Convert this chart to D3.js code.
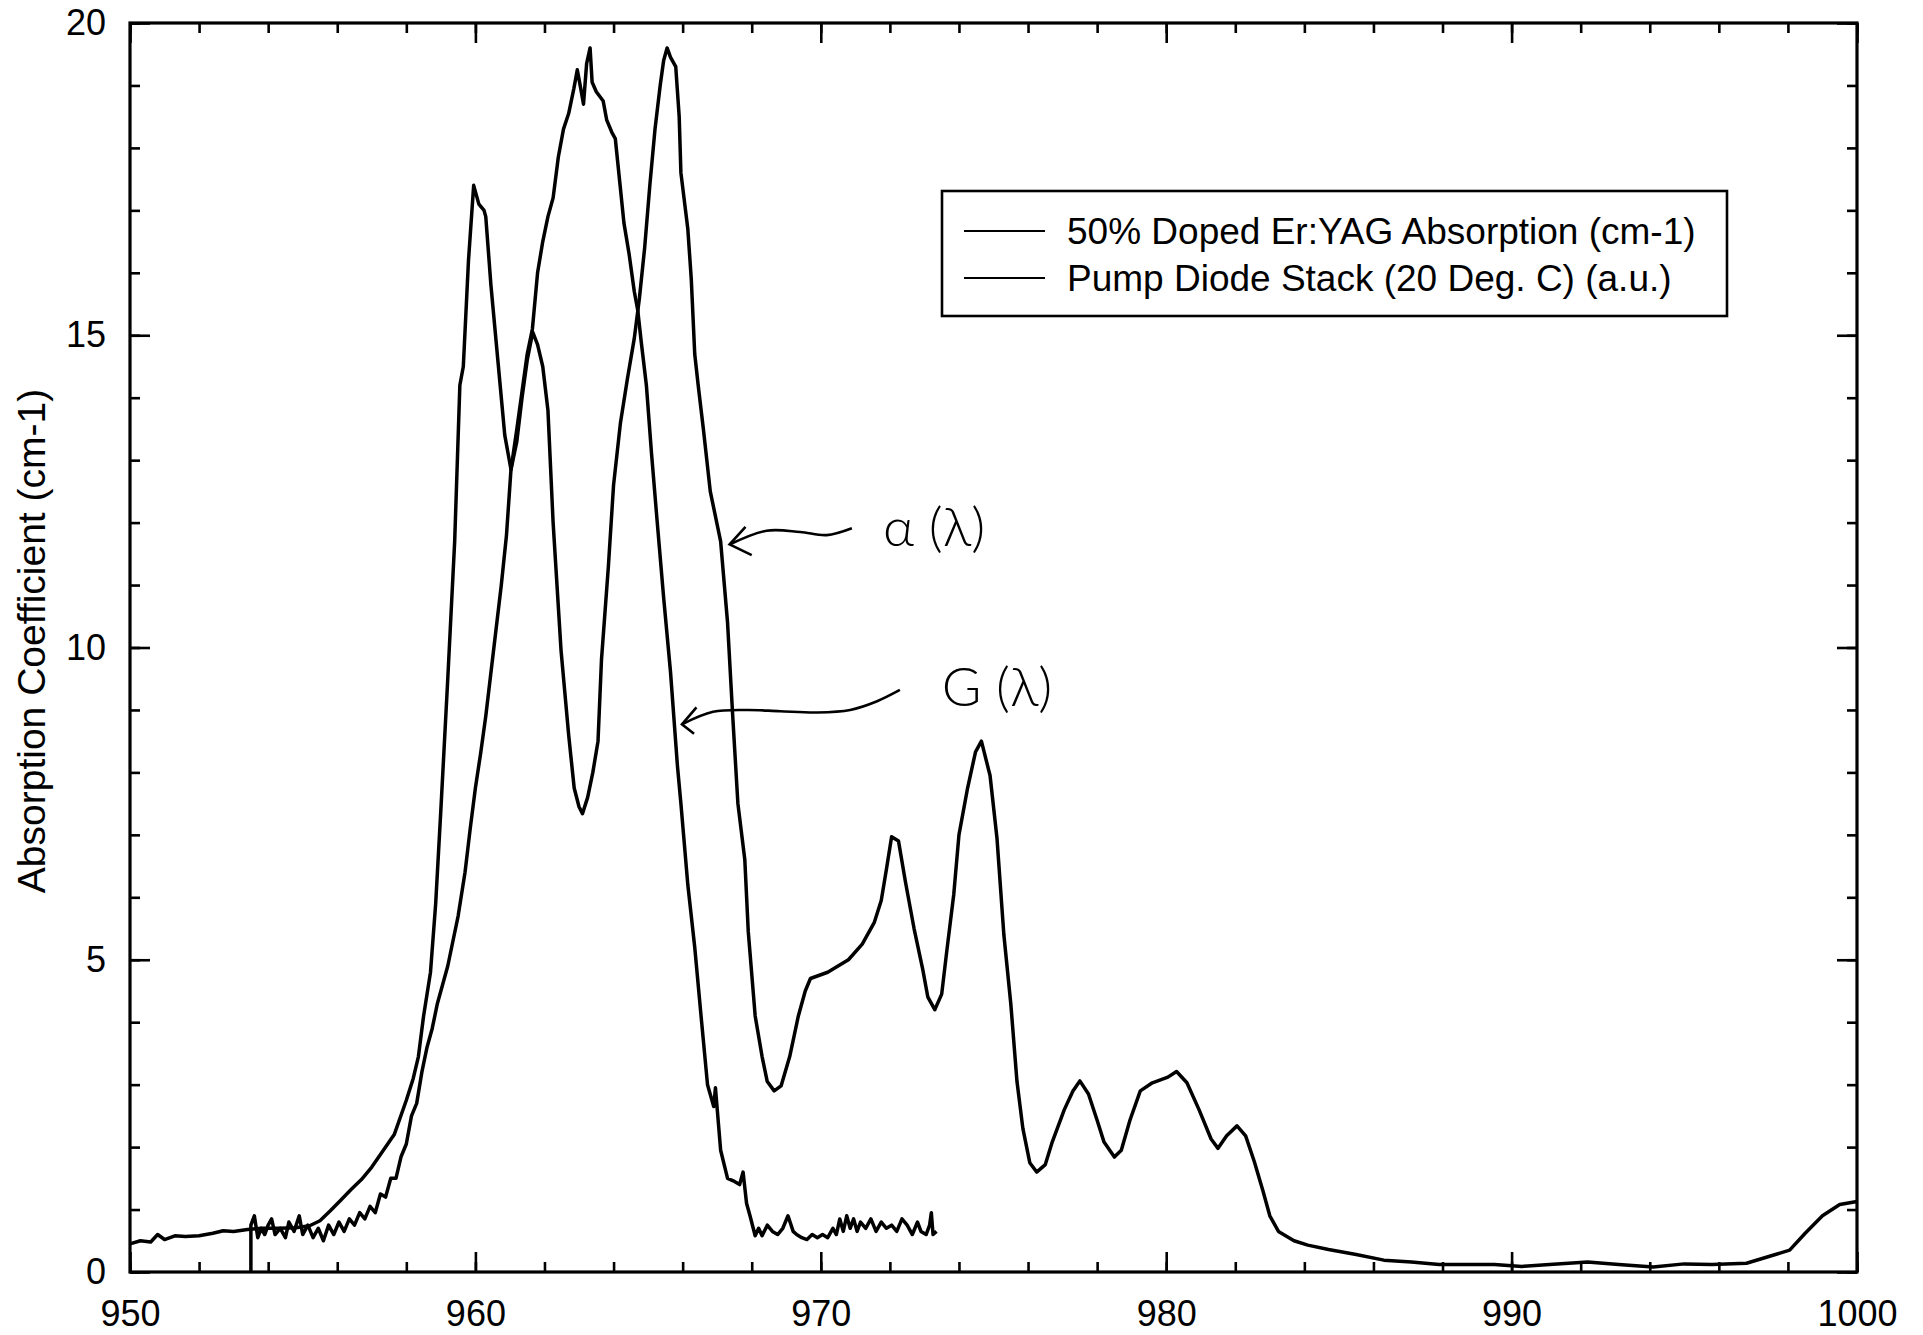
<!DOCTYPE html>
<html>
<head>
<meta charset="utf-8">
<script src="https://cdnjs.cloudflare.com/ajax/libs/d3/7.8.5/d3.min.js"></script>
<style>
body { margin: 0; background: #fff; }
svg { display: block; font-family: "Liberation Sans", Arial, sans-serif; }
</style>
</head>
<body>
<svg></svg>
<script>
// tick values
const xTicks = [950, 960, 970, 980, 990, 1000];
const yTicks = [0, 5, 10, 15, 20];
const xMinor = d3.range(950, 1001, 2);
const yMinor = d3.range(0, 21, 1);

const seriesNames = ['50% Doped Er:YAG Absorption (cm-1)', 'Pump Diode Stack (20 Deg. C) (a.u.)'];
const yTitle = 'Absorption Coefficient (cm-1)';

// [wavelength nm, value]
const absorption = [
  [950.0, 0.45], [950.3, 0.50], [950.6, 0.48], [950.8, 0.60], [951.0, 0.52], [951.3, 0.58],
  [951.6, 0.57], [952.0, 0.58], [952.4, 0.62], [952.7, 0.66], [953.0, 0.65], [953.4, 0.68],
  [953.8, 0.70], [954.3, 0.70], [954.8, 0.71], [955.2, 0.74], [955.5, 0.82], [955.8, 0.98],
  [956.1, 1.15], [956.4, 1.32], [956.7, 1.48], [957.0, 1.68], [957.3, 1.92], [957.65, 2.2],
  [958.0, 2.75], [958.2, 3.1], [958.35, 3.45], [958.5, 4.1], [958.7, 4.8], [958.85, 5.9],
  [959.0, 7.4], [959.2, 9.5], [959.4, 11.7], [959.55, 14.2], [959.65, 14.5], [959.8, 16.2],
  [959.95, 17.4], [960.1, 17.1], [960.25, 17.0], [960.3, 16.9], [960.45, 15.8], [960.65, 14.6],
  [960.85, 13.4], [961.03, 12.85], [961.2, 13.3], [961.35, 14.0], [961.5, 14.6], [961.66, 15.05],
  [961.8, 14.85], [961.95, 14.5], [962.1, 13.8], [962.25, 12.0], [962.48, 9.95], [962.7, 8.6],
  [962.86, 7.75], [963.0, 7.45], [963.1, 7.34], [963.25, 7.6], [963.4, 8.0], [963.55, 8.5],
  [963.65, 9.8], [963.85, 11.3], [964.0, 12.6], [964.2, 13.6], [964.4, 14.3], [964.6, 14.95],
  [964.75, 15.6], [964.9, 16.4], [965.05, 17.4], [965.2, 18.3], [965.35, 19.0], [965.45, 19.4],
  [965.55, 19.6], [965.65, 19.45], [965.8, 19.3], [965.9, 18.5], [965.95, 17.6], [966.15, 16.7],
  [966.25, 15.9], [966.35, 14.7], [966.45, 14.2], [966.6, 13.5], [966.8, 12.5], [967.1, 11.7],
  [967.3, 10.4], [967.45, 8.9], [967.6, 7.5], [967.8, 6.6], [967.9, 5.45], [968.1, 4.1],
  [968.3, 3.45], [968.45, 3.05], [968.65, 2.9], [968.85, 2.98], [969.1, 3.45], [969.35, 4.1],
  [969.55, 4.5], [969.7, 4.7], [970.2, 4.8], [970.5, 4.9], [970.8, 5.0], [971.2, 5.25],
  [971.55, 5.6], [971.75, 5.95], [971.9, 6.45], [972.05, 6.97], [972.25, 6.9], [972.45, 6.25],
  [972.7, 5.5], [972.95, 4.85], [973.1, 4.4], [973.3, 4.2], [973.5, 4.45], [973.65, 5.15],
  [973.85, 6.05], [974.0, 7.0], [974.25, 7.75], [974.48, 8.33], [974.65, 8.5], [974.9, 7.95],
  [975.1, 6.95], [975.3, 5.4], [975.5, 4.3], [975.68, 3.05], [975.85, 2.3], [976.05, 1.75],
  [976.25, 1.6], [976.5, 1.72], [976.7, 2.08], [977.05, 2.6], [977.3, 2.9], [977.5, 3.06],
  [977.75, 2.85], [978.0, 2.43], [978.2, 2.08], [978.5, 1.84], [978.7, 1.95], [978.95, 2.43],
  [979.25, 2.9], [979.6, 3.03], [980.05, 3.12], [980.3, 3.21], [980.6, 3.03], [980.95, 2.6],
  [981.3, 2.13], [981.5, 1.98], [981.75, 2.18], [982.05, 2.34], [982.3, 2.18], [982.55, 1.77],
  [982.8, 1.3], [983.0, 0.9], [983.25, 0.65], [983.7, 0.5], [984.1, 0.43], [984.7, 0.36],
  [985.5, 0.28], [986.3, 0.19], [987.1, 0.16], [987.9, 0.12], [988.7, 0.12], [989.5, 0.12],
  [990.3, 0.09], [991.1, 0.12], [992.2, 0.16], [993.1, 0.12], [994.1, 0.08], [995.0, 0.13],
  [995.8, 0.12], [996.8, 0.14], [997.4, 0.24], [998.05, 0.35], [998.5, 0.62], [999.0, 0.9],
  [999.5, 1.08], [1000.0, 1.13]
];

const pumpDiode = [
  [953.5, 0.0], [953.5, 0.75], [953.6, 0.9], [953.7, 0.55], [953.8, 0.7], [953.9, 0.6],
  [954.0, 0.75], [954.1, 0.85], [954.2, 0.6], [954.35, 0.7], [954.5, 0.55], [954.6, 0.8],
  [954.75, 0.65], [954.9, 0.9], [955.0, 0.6], [955.15, 0.75], [955.3, 0.55], [955.45, 0.7],
  [955.6, 0.5], [955.75, 0.75], [955.9, 0.6], [956.05, 0.8], [956.2, 0.65], [956.35, 0.85],
  [956.5, 0.75], [956.65, 0.95], [956.8, 0.85], [956.95, 1.05], [957.1, 0.95], [957.25, 1.25],
  [957.4, 1.2], [957.55, 1.5], [957.7, 1.5], [957.85, 1.85], [958.0, 2.05], [958.15, 2.5],
  [958.3, 2.7], [958.45, 3.2], [958.6, 3.6], [958.75, 3.9], [958.9, 4.3], [959.05, 4.6],
  [959.2, 4.9], [959.35, 5.3], [959.5, 5.7], [959.7, 6.4], [959.85, 7.1], [960.0, 7.75],
  [960.15, 8.3], [960.3, 8.9], [960.45, 9.6], [960.6, 10.3], [960.75, 11.0], [960.9, 11.8],
  [961.03, 12.85], [961.2, 13.5], [961.35, 14.1], [961.5, 14.7], [961.65, 15.1], [961.8, 16.0],
  [961.95, 16.5], [962.1, 16.9], [962.25, 17.2], [962.4, 17.85], [962.55, 18.3], [962.7, 18.55],
  [962.85, 18.95], [962.95, 19.25], [963.05, 18.95], [963.13, 18.7], [963.22, 19.35], [963.32, 19.6],
  [963.38, 19.05], [963.5, 18.9], [963.7, 18.75], [963.8, 18.45], [963.95, 18.25], [964.05, 18.15],
  [964.18, 17.45], [964.3, 16.8], [964.45, 16.3], [964.6, 15.7], [964.7, 15.4], [964.8, 14.9],
  [964.95, 14.2], [965.1, 13.1], [965.25, 12.1], [965.45, 10.8], [965.65, 9.6], [965.85, 8.1],
  [965.95, 7.5], [966.15, 6.2], [966.35, 5.2], [966.55, 4.0], [966.72, 3.0], [966.9, 2.65],
  [966.95, 2.95], [967.1, 1.95], [967.3, 1.5], [967.5, 1.45], [967.65, 1.4], [967.75, 1.6],
  [967.85, 1.1], [967.95, 0.9], [968.1, 0.58], [968.2, 0.7], [968.3, 0.58], [968.45, 0.75],
  [968.6, 0.65], [968.75, 0.6], [968.9, 0.7], [969.05, 0.9], [969.2, 0.65], [969.3, 0.6],
  [969.45, 0.55], [969.6, 0.52], [969.75, 0.6], [969.9, 0.55], [970.05, 0.6], [970.2, 0.55],
  [970.35, 0.7], [970.45, 0.6], [970.55, 0.85], [970.65, 0.65], [970.75, 0.9], [970.85, 0.7],
  [970.95, 0.85], [971.05, 0.65], [971.15, 0.8], [971.3, 0.7], [971.45, 0.85], [971.6, 0.65],
  [971.75, 0.8], [971.9, 0.7], [972.05, 0.75], [972.2, 0.65], [972.35, 0.85], [972.5, 0.75],
  [972.65, 0.6], [972.8, 0.8], [972.9, 0.65], [973.05, 0.6], [973.15, 0.75], [973.2, 0.95],
  [973.25, 0.6], [973.35, 0.65]
];

// hand written notes on the scan, in data units
const alphaArrow = [[970.9, 11.91], [970.17, 11.8], [969.4, 11.85], [968.43, 11.87], [967.36, 11.65]];
const alphaHead = [[967.82, 11.93], [967.36, 11.65], [968.0, 11.48]];
const gArrow = [[972.29, 9.32], [971.63, 9.14], [970.85, 9.0], [969.89, 8.96], [968.82, 8.98], [967.86, 9.0], [966.88, 8.97], [965.98, 8.77]];
const gHead = [[966.4, 9.04], [965.98, 8.77], [966.33, 8.62]];
const notes = [
  { text: 'α (λ)', x: 971.8, y: 11.62 },
  { text: 'G (λ)', x: 973.5, y: 9.06 }
];

let width = 1923;
let height = 1335;
let margin = { left: 130, right: 1857, top: 23, bottom: 1272 };

let svg = d3.select('svg')
  .attr('width', width)
  .attr('height', height);

let xScale = d3.scaleLinear().domain([950, 1000]).range([margin.left, margin.right]);
let yScale = d3.scaleLinear().domain([0, 20]).range([margin.bottom, margin.top]);

let drawAxes = () => {
  let addAxis = (axis, tx, ty) => {
    let g = svg.append('g')
      .attr('transform', `translate(${tx}, ${ty})`)
      .call(axis);
    g.select('.domain').remove();
    g.selectAll('line').attr('stroke', '#000').attr('stroke-width', 2.6);
    g.selectAll('text').attr('fill', '#000').style('font-size', '36px');
    return g;
  };

  // minor ticks on all sides
  addAxis(d3.axisBottom(xScale).tickValues(xMinor).tickSize(-10).tickFormat(''), 0, margin.bottom);
  addAxis(d3.axisTop(xScale).tickValues(xMinor).tickSize(-10).tickFormat(''), 0, margin.top);
  addAxis(d3.axisLeft(yScale).tickValues(yMinor).tickSize(-10).tickFormat(''), margin.left, 0);
  addAxis(d3.axisRight(yScale).tickValues(yMinor).tickSize(-10).tickFormat(''), margin.right, 0);

  // major ticks
  addAxis(d3.axisBottom(xScale).tickValues(xTicks).tickSize(-20).tickPadding(28).tickFormat(d3.format('d')), 0, margin.bottom);
  addAxis(d3.axisTop(xScale).tickValues(xTicks).tickSize(-20).tickFormat(''), 0, margin.top);
  addAxis(d3.axisLeft(yScale).tickValues(yTicks).tickSize(-20).tickPadding(24).tickFormat(d3.format('d')), margin.left, 0);
  addAxis(d3.axisRight(yScale).tickValues(yTicks).tickSize(-20).tickFormat(''), margin.right, 0);

  svg.append('rect')
    .attr('x', margin.left)
    .attr('y', margin.top)
    .attr('width', margin.right - margin.left)
    .attr('height', margin.bottom - margin.top)
    .attr('fill', 'none')
    .attr('stroke', '#000')
    .attr('stroke-width', 3.2);

  svg.append('text')
    .attr('transform', 'translate(45, 641) rotate(-90)')
    .attr('text-anchor', 'middle')
    .style('font-size', '39px')
    .text(yTitle);
};

let drawLines = () => {
  let line = d3.line()
    .x(d => xScale(d[0]))
    .y(d => yScale(d[1]));

  [absorption, pumpDiode].forEach(series => {
    svg.append('path')
      .datum(series)
      .attr('d', line)
      .attr('fill', 'none')
      .attr('stroke', '#000')
      .attr('stroke-width', 3.5)
      .attr('stroke-linejoin', 'round');
  });
};

let drawLegend = () => {
  let g = svg.append('g');
  g.append('rect')
    .attr('x', 942).attr('y', 191)
    .attr('width', 785).attr('height', 125)
    .attr('fill', '#fff')
    .attr('stroke', '#000')
    .attr('stroke-width', 2.6);

  seriesNames.forEach((name, i) => {
    let cy = 231 + i * 47;
    g.append('line')
      .attr('x1', 964).attr('x2', 1045)
      .attr('y1', cy).attr('y2', cy)
      .attr('stroke', '#000')
      .attr('stroke-width', 2.2);
    g.append('text')
      .attr('x', 1067)
      .attr('y', cy + 13)
      .style('font-size', '37px')
      .text(name);
  });
};

let drawNotes = () => {
  let smooth = d3.line()
    .x(d => xScale(d[0]))
    .y(d => yScale(d[1]))
    .curve(d3.curveCatmullRom);
  let straight = d3.line()
    .x(d => xScale(d[0]))
    .y(d => yScale(d[1]));

  [alphaArrow, gArrow].forEach(pts => {
    svg.append('path').attr('d', smooth(pts))
      .attr('fill', 'none').attr('stroke', '#000').attr('stroke-width', 2.6);
  });
  [alphaHead, gHead].forEach(pts => {
    svg.append('path').attr('d', straight(pts))
      .attr('fill', 'none').attr('stroke', '#000').attr('stroke-width', 2.6);
  });

  svg.selectAll('.note')
    .data(notes)
    .enter()
    .append('text')
    .attr('class', 'note')
    .attr('x', d => xScale(d.x))
    .attr('y', d => yScale(d.y))
    .style('font-family', 'Lato, "DejaVu Sans", sans-serif')
    .style('font-weight', 300)
    .style('font-size', '54px')
    .text(d => d.text);
};

drawAxes();
drawLines();
drawLegend();
drawNotes();
</script>
</body>
</html>
